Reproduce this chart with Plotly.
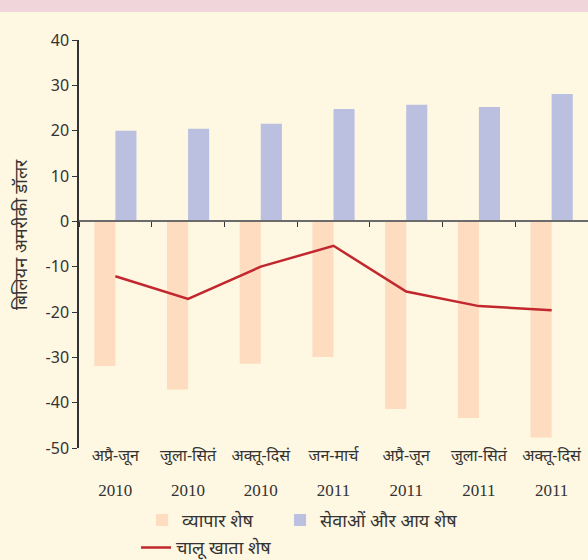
import plotly.graph_objects as go

categories = ["अप्रै-जून", "जुला-सितं", "अक्तू-दिसं", "जन-मार्च", "अप्रै-जून", "जुला-सितं", "अक्तू-दिसं"]
years = ["2010", "2010", "2010", "2011", "2011", "2011", "2011"]
trade_balance = [-31.9, -37.1, -31.4, -29.9, -41.4, -43.4, -47.7]
services_income = [20.0, 20.4, 21.5, 24.8, 25.7, 25.2, 28.1]
current_account = [-12.1, -17.1, -10.0, -5.4, -15.5, -18.7, -19.6]

y_ticks = [-50, -40, -30, -20, -10, 0, 10, 20, 30, 40]
y_tick_labels = [str(v) for v in y_ticks]

cat_x = [f"{c}|{i}" for i, c in enumerate(categories)]

BG = "#FEF7E2"
SANS = "Noto Sans, DejaVu Sans, sans-serif"
SERIF = "Liberation Serif, DejaVu Serif, serif"
BAR_W = 0.29

fig = go.Figure()
fig.add_trace(go.Bar(x=cat_x, y=trade_balance, name="व्यापार शेष", xaxis="x",
                     width=BAR_W, offset=-BAR_W, showlegend=True,
                     marker=dict(color="#FDDCC0", line=dict(width=0)), legend="legend"))
fig.add_trace(go.Bar(x=cat_x, y=services_income, name="सेवाओं और आय शेष", xaxis="x3",
                     width=BAR_W, offset=0, showlegend=True,
                     marker=dict(color="#BBBFE0", line=dict(width=0)), legend="legend3"))
fig.add_trace(go.Scatter(x=cat_x, y=current_account, name="चालू खाता शेष", mode="lines",
                         xaxis="x2", showlegend=True,
                         line=dict(color="#C1272D", width=2.5), legend="legend2"))

n = len(categories)
common_x = dict(type="category", range=[-0.5, n - 0.5], showgrid=False, zeroline=False,
                fixedrange=True)
leg_common = dict(orientation="h", xanchor="left", yanchor="top", bgcolor="rgba(0,0,0,0)",
                  font=dict(size=18, color="#333333"))
fig.update_layout(
    width=588, height=560,
    showlegend=True,
    margin=dict(l=79, r=0, t=40, b=112, autoexpand=False),
    paper_bgcolor=BG, plot_bgcolor=BG,
    font=dict(family=SANS, size=15, color="#333333"),
    xaxis=dict(**common_x, tickmode="array", tickvals=cat_x, ticktext=categories,
               showline=False, ticks="", tickfont=dict(size=16, color="#333333"),
               ticklabelstandoff=-4),
    xaxis2=dict(**common_x, overlaying="x", anchor="free", position=50 / 90,
                showticklabels=False, tickson="boundaries",
                ticks="outside", ticklen=5, tickwidth=1, tickcolor="#333333",
                showline=True, linecolor="#6B6B6B", linewidth=2),
    xaxis3=dict(**common_x, overlaying="x", anchor="y", side="bottom",
                tickmode="array", tickvals=cat_x, ticktext=years, showline=False, ticks="",
                tickfont=dict(family=SERIF, size=17, color="#333333"), ticklabelstandoff=30),
    yaxis=dict(range=[-50, 40], tickmode="array", tickvals=y_ticks, ticktext=y_tick_labels,
               showline=True, linecolor="#333333", linewidth=1.5, ticks="outside", ticklen=5,
               tickcolor="#333333", showgrid=False, zeroline=False, fixedrange=True,
               tickfont=dict(size=16, color="#333333")),
    legend=dict(**leg_common, x=0.124, y=-0.132),
    legend3=dict(**leg_common, x=0.395, y=-0.132),
    legend2=dict(**leg_common, x=0.112, y=-0.199),
    shapes=[dict(type="rect", xref="paper", yref="paper", x0=-79 / 509, x1=1,
                 y0=(448 - 12) / 408, y1=(448 + 2) / 408, fillcolor="#F0D6DA",
                 line=dict(width=0), layer="below")],
    annotations=[dict(text="बिलियन अमरीकी डॉलर", xref="paper", yref="paper",
                      x=(20 - 79) / 509, y=(448 - 235) / 408, xanchor="center", yanchor="middle",
                      textangle=-90, showarrow=False, font=dict(size=18, color="#333333"))],
)

fig.write_html("out.html", config={"displayModeBar": False},
               post_script="document.body.style.margin='0';document.body.style.background='#FEF7E2';")
